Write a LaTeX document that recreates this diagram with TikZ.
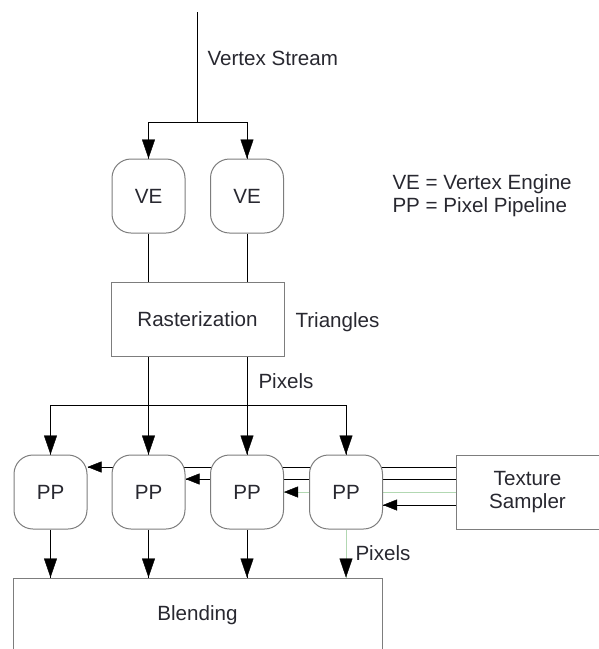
\documentclass[tikz,border=0pt]{standalone}
\usepackage{fontspec}
\setmainfont{Liberation Sans}
\usetikzlibrary{arrows.meta}
\usetikzlibrary{decorations.markings}
\usetikzlibrary{positioning}
\usetikzlibrary{backgrounds}
\definecolor{wire}{RGB}{125,125,125}
\definecolor{ink}{RGB}{40,40,48}
\definecolor{lightgreen}{RGB}{178,216,178}
\tikzset{->/.style = {decoration={markings,
                                  mark=at position 1 with {\arrow{Triangle[length=19pt, width=13pt, color=black]}}},
                      postaction={decorate}}}
\tikzset{feed/.style = {decoration={markings,
                                    mark=at position 1 with {\arrow{Triangle[length=14pt, width=11pt, color=black]}}},
                        postaction={decorate}}}
\tikzset{unit/.style = {draw=wire, fill=white, rounded corners=19pt, minimum width=73pt,
                        minimum height=74pt, inner sep=0pt, text=ink}}
\tikzset{block/.style = {draw=wire, fill=white, inner sep=0pt, text=ink, align=center}}
\tikzset{lbl/.style = {anchor=west, inner sep=0pt, text=ink}}

\begin{document}
\begin{tikzpicture}[x=1pt, y=-1pt, line width=1pt, draw=wire,
                    font=\fontsize{20.6}{23}\selectfont]
    \useasboundingbox (0, 0) rectangle (599, 649);

    \coordinate (src) at (197, 12);
    \coordinate (split) at (197, 122);
    \coordinate (bus) at (0, 405);

    \node [unit] (ve1) at (148.5, 196) {VE};
    \node [unit] (ve2) at (247, 196) {VE};
    \node [block, minimum width=173pt, minimum height=74pt] (rast) at (197.5, 319) {Rasterization};

    \node [unit] (pp1) at (50.5, 492) {PP};
    \node [unit] (pp2) at (148.5, 492) {PP};
    \node [unit] (pp3) at (247, 492) {PP};
    \node [unit] (pp4) at (346, 492) {PP};
    \node [block, minimum width=143pt, minimum height=74pt] (tex) at (527.5, 492) {Texture\\Sampler};
    \node [block, minimum width=369pt, minimum height=74pt] (blend) at (197.5, 615) {Blending};

    \node [lbl] (stream) at (207, 58) {Vertex Stream};
    \node [lbl] (tri) at (295, 322) {Triangles};
    \node [lbl] (pix) at (258, 381) {Pixels};
    \node [lbl] (pixout) at (355, 553) {Pixels};
    \node [lbl] (keyve) at (392, 184) {VE = Vertex Engine};
    \node [lbl] (keypp) at (392, 207) {PP = Pixel Pipeline};

    \begin{pgfonlayer}{background}
        \draw (src) -- (split);
        \draw [->] (split) -| (ve1.north);
        \draw [->] (split) -| (ve2.north);
        \draw (ve1.south) -- (ve1.south |- rast.north);
        \draw (ve2.south) -- (ve2.south |- rast.north);

        \draw [->] (rast.south -| pp2) -- (pp2.north);
        \draw [->] (rast.south -| pp3) -- (pp3.north);
        \draw [->] (pp1 |- bus) -- (pp1.north);
        \draw (pp1 |- bus) -- (pp4 |- bus);
        \draw [->] (pp4 |- bus) -- (pp4.north);

        \draw [feed] ([yshift=25pt]tex.west) -- ([yshift=25pt]tex.west -| pp1.east);
        \draw [feed] ([yshift=13pt]tex.west) -- ([yshift=13pt]tex.west -| pp2.east);
        \draw [feed, lightgreen] (tex.west) -- (pp3.east);
        \draw [feed] ([yshift=-13pt]tex.west) -- ([yshift=-13pt]tex.west -| pp4.east);

        \draw [->] (pp1.south) -- (pp1.south |- blend.north);
        \draw [->] (pp2.south) -- (pp2.south |- blend.north);
        \draw [->] (pp3.south) -- (pp3.south |- blend.north);
        \draw [->, lightgreen] (pp4.south) -- (pp4.south |- blend.north);
    \end{pgfonlayer}
\end{tikzpicture}
\end{document}
